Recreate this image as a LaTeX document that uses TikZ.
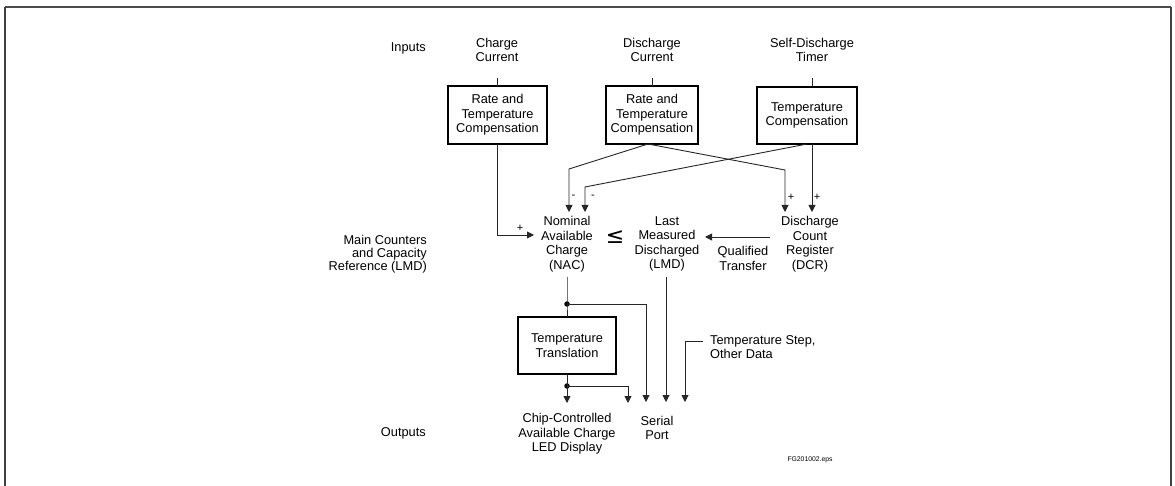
\documentclass[tikz,border=0pt]{standalone}
\usepackage{fontspec}
\setmainfont{Liberation Sans}
\newfontfamily\symfont{DejaVu Sans}
\usetikzlibrary{arrows.meta}
\begin{document}
\begin{tikzpicture}[x=1pt,y=-1pt,
  txt/.style={align=center,inner sep=0pt,font=\fontsize{12.8}{14.6}\selectfont},
  lbl/.style={inner sep=0pt,font=\fontsize{12.8}{14.6}\selectfont},
  sgn/.style={inner sep=0pt,font=\fontsize{11}{11}\selectfont},
  box/.style={draw=black,line width=2.2pt,align=center,inner sep=0pt,outer sep=0pt,
    font=\fontsize{12.8}{14.6}\selectfont},
  conn/.style={draw=black!85,line width=0.9pt},
  arr/.style={conn,-{Triangle[length=7pt,width=7pt]}},
  dot/.style={circle,fill=black,inner sep=0pt,minimum size=5.5pt}]
\useasboundingbox (0,0) rectangle (1175,486);
% frame
\draw[black!70,line width=1.2pt] (5,7) -- (1171,7);
\draw[black!75,line width=2pt] (5,486) -- (5,7);
\draw[black!75,line width=1.5pt] (1171,7) -- (1171,486);

% row labels
\node[lbl,anchor=east] (inputs) at (426,48) {Inputs};
\node[lbl,anchor=east,align=right,font=\fontsize{12.8}{12.8}\selectfont] (mc) at (427,254) {Main Counters\\and Capacity\\Reference (LMD)};
\node[lbl,anchor=east] (outputs) at (426,433) {Outputs};

% inputs
\node[txt] (in1) at (497,50) {Charge\\Current};
\node[txt] (in2) at (652,50) {Discharge\\Current};
\node[txt] (in3) at (812,50) {Self-Discharge\\Timer};

% boxes
\node[box,minimum width=99pt,minimum height=58pt] (box1) at (497.5,115) {Rate and\\Temperature\\Compensation};
\node[box,minimum width=92pt,minimum height=58pt] (box2) at (652,115) {Rate and\\Temperature\\Compensation};
\node[box,minimum width=100pt,minimum height=57pt] (box3) at (807,115.5) {Temperature\\Compensation};

% counters
\node[txt] (nac) at (567,244) {Nominal\\Available\\Charge\\(NAC)};
\node[txt] (lmd) at (667,244) {Last\\Measured\\Discharged\\(LMD)};
\node[txt] (dcr) at (810,244) {Discharge\\Count\\Register\\(DCR)};
\node[txt] (qt) at (743,258.5) {Qualified\\Transfer};
\node[inner sep=0pt,font=\symfont\fontsize{22}{22}\selectfont] (le) at (615,237) {≤};

% translation box
\node[box,minimum width=98pt,minimum height=57pt] (box4) at (567,345.5) {Temperature\\Translation};

% outputs
\node[txt] (chip) at (567,434) {Chip-Controlled\\Available Charge\\LED Display};
\node[txt] (serial) at (657,428) {Serial\\Port};
\node[txt,anchor=west,align=left] (ts) at (710,347) {Temperature Step,\\Other Data};
\node[inner sep=0pt,font=\fontsize{6.8}{6.8}\selectfont] (fg) at (810,460) {FG201002.eps};

% coordinates
\coordinate (t1) at (497.5,78);
\coordinate (t2) at (652,78);
\coordinate (t3) at (812,78);
\coordinate (b2) at (648,144);
\coordinate (b3a) at (807,144);
\coordinate (b3b) at (812,144);
\coordinate (nacin) at (534,235);
\coordinate (k1) at (569,169);
\coordinate (e1) at (569,212);
\coordinate (k2) at (585,187);
\coordinate (e2) at (585,212);
\coordinate (k3) at (785,170);
\coordinate (e3) at (785,212);
\coordinate (e4) at (812,212);
\coordinate (dcrout) at (770,237);
\coordinate (lmdin) at (705,237);
\coordinate (nacout) at (567,277);
\coordinate (lmdout) at (666,277);
\coordinate (s1) at (646,402);
\coordinate (s2) at (666,402);
\coordinate (s3) at (685,402);
\coordinate (o1) at (567,403);
\coordinate (o2) at (628,403);
\coordinate (tsl) at (703,341);

% input lines
\draw[conn] (t1) -- (box1.north);
\draw[conn] (t2) -- (box2.north);
\draw[conn] (t3) -- (t3 |- box3.north);

% box outputs
\draw[arr] (box1.south) |- (nacin);
\draw[arr] (b2) -- (k1) -- (e1);
\draw[arr] (b2) -- (k3) -- (e3);
\draw[arr] (b3a) -- (k2) -- (e2);
\draw[arr] (b3b) -- (e4);

% signs
\node[sgn] (p0) at (520,228) {+};
\node[sgn] (m1) at (573.5,197) {-};
\node[sgn] (m2) at (593,197) {-};
\node[sgn] (p1) at (791,197) {+};
\node[sgn] (p2) at (817,197) {+};

% qualified transfer
\draw[arr] (dcrout) -- (lmdin);

% nac down
\node[dot] (d1) at (567,304) {};
\draw[conn] (nacout) -- (d1.center) -- (box4.north);
\draw[arr] (d1.center) -| (s1);
\draw[arr] (lmdout) -- (s2);

% translation outputs
\node[dot] (d2) at (567,386) {};
\draw[arr] (box4.south) -- (o1);
\draw[arr] (d2.center) -| (o2);

% temperature step
\draw[arr] (tsl) -| (s3);
\end{tikzpicture}
\end{document}
